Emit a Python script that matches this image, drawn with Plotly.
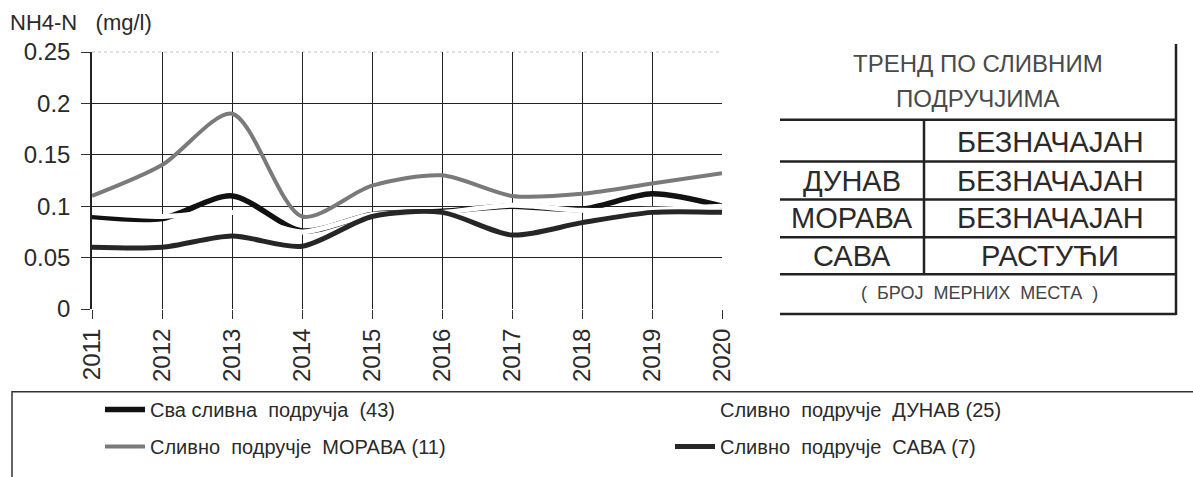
import plotly.graph_objects as go

# data (NH4-N, mg/l)
years = [2011, 2012, 2013, 2014, 2015, 2016, 2017, 2018, 2019, 2020]
sva = [0.09, 0.088, 0.11, 0.076, 0.092, 0.095, 0.10, 0.097, 0.112, 0.10]
dunav = [0.094, 0.090, 0.094, 0.075, 0.092, 0.094, 0.101, 0.096, 0.097, 0.100]
morava = [0.11, 0.14, 0.19, 0.09, 0.12, 0.13, 0.11, 0.112, 0.122, 0.132]
sava = [0.06, 0.06, 0.071, 0.061, 0.09, 0.094, 0.072, 0.084, 0.094, 0.094]

y_ticks = [0, 0.05, 0.1, 0.15, 0.2, 0.25]
y_ticktext = ["0", "0.05", "0.1", "0.15", "0.2", "0.25"]

names = ["Сва сливна  подручја  (43)", "Сливно  подручје  ДУНАВ (25)",
         "Сливно  подручје  МОРАВА (11)", "Сливно  подручје  САВА (7)"]

FONT = "Liberation Sans, Arial, sans-serif"
INK = "#2a2a2a"

fig = go.Figure()

# draw order: All, white Dunav over it, then Sava and Morava
fig.add_trace(go.Scatter(x=years, y=sva, name=names[0], mode="lines",
                         line=dict(color="#111111", width=5.5, shape="spline", smoothing=0.8),
                         legend="legend", legendgroup="a", legendrank=1))
fig.add_trace(go.Scatter(x=years, y=dunav, name=names[1], mode="lines",
                         line=dict(color="#ffffff", width=5, shape="spline", smoothing=0.8),
                         legend="legend2", legendgroup="b", legendrank=1))
fig.add_trace(go.Scatter(x=years, y=sava, name=names[3], mode="lines",
                         line=dict(color="#262626", width=5, shape="spline", smoothing=0.8),
                         legend="legend2", legendgroup="d", legendrank=2))
fig.add_trace(go.Scatter(x=years, y=morava, name=names[2], mode="lines",
                         line=dict(color="#7a7a7a", width=4, shape="spline", smoothing=0.8),
                         legend="legend", legendgroup="c", legendrank=2))

# plot area in px: x 92..722, y 52..310
L, R, T, B = 92, 722, 52, 310
def px(x):
    return (x - L) / (R - L)
def py(y):
    return (B - y) / (B - T)

shapes = []
line = dict(color="#222222", width=2.5)
# table on the right
for yy in [120, 162, 200, 238, 275, 315]:
    shapes.append(dict(type="line", xref="paper", yref="paper",
                       x0=px(780), x1=px(1176), y0=py(yy), y1=py(yy), line=line))
shapes.append(dict(type="line", xref="paper", yref="paper",
                   x0=px(1176), x1=px(1176), y0=py(44), y1=py(316), line=line))
shapes.append(dict(type="line", xref="paper", yref="paper",
                   x0=px(924), x1=px(924), y0=py(120), y1=py(275), line=line))
# legend frame
shapes.append(dict(type="rect", xref="paper", yref="paper",
                   x0=px(12), x1=px(1200), y0=py(393), y1=py(490),
                   line=dict(color="#333333", width=1.5)))
# faded top grid line and missing right grid line of the scan
shapes.append(dict(type="line", xref="paper", yref="paper", layer="between",
                   x0=0, x1=1, y0=1, y1=1, line=dict(color="#d8d8d8", width=1.5, dash="dot")))
shapes.append(dict(type="line", xref="paper", yref="paper", layer="between",
                   x0=1, x1=1, y0=0.004, y1=1.01, line=dict(color="#ffffff", width=3)))

annotations = [
    dict(text="NH4-N   (mg/l)", x=px(8), y=py(22), xanchor="left",
         font=dict(size=22, color=INK)),
    dict(text="ТРЕНД ПО СЛИВНИМ", x=px(978), y=py(64), font=dict(size=24, color="#4a4a4a")),
    dict(text="ПОДРУЧЈИМА", x=px(978), y=py(99), font=dict(size=24, color="#4a4a4a")),
    dict(text="БЕЗНАЧАЈАН", x=px(1050), y=py(142), font=dict(size=29, color=INK)),
    dict(text="ДУНАВ", x=px(852), y=py(182), font=dict(size=29, color=INK)),
    dict(text="БЕЗНАЧАЈАН", x=px(1050), y=py(182), font=dict(size=29, color=INK)),
    dict(text="МОРАВА", x=px(852), y=py(219), font=dict(size=29, color=INK)),
    dict(text="БЕЗНАЧАЈАН", x=px(1050), y=py(219), font=dict(size=29, color=INK)),
    dict(text="САВА", x=px(852), y=py(257), font=dict(size=29, color=INK)),
    dict(text="РАСТУЋИ", x=px(1050), y=py(257), font=dict(size=29, color=INK)),
    dict(text="(  БРОЈ  МЕРНИХ  МЕСТА  )", x=px(979), y=py(294), font=dict(size=18, color="#444")),
]
for a in annotations:
    a.setdefault("xref", "paper")
    a.setdefault("yref", "paper")
    a.setdefault("showarrow", False)
    a.setdefault("xanchor", "center")
    a.setdefault("yanchor", "middle")

legend_style = dict(bgcolor="rgba(0,0,0,0)", font=dict(size=20, color=INK, family=FONT),
                    itemwidth=40, tracegroupgap=8, traceorder="grouped",
                    xanchor="left", yanchor="top")

fig.update_layout(
    width=1193, height=477,
    margin=dict(l=L, r=1193 - R, t=T, b=477 - B),
    paper_bgcolor="white", plot_bgcolor="white",
    font=dict(family=FONT, size=18, color=INK),
    xaxis=dict(range=[2011, 2020], tickvals=years, tickangle=-90,
               showgrid=True, gridcolor="#222222", gridwidth=1.3,
               ticks="outside", ticklen=9, tickcolor="#333", tickwidth=1.3,
               zeroline=False, showline=False, tickfont=dict(size=24, color=INK)),
    yaxis=dict(range=[0, 0.25], tickvals=y_ticks, ticktext=y_ticktext,
               showgrid=True, gridcolor="#222222", gridwidth=1.3,
               ticks="outside", ticklen=9, tickcolor="#333", tickwidth=1.3,
               ticklabelstandoff=6,
               zeroline=False, showline=True, linecolor="#222", linewidth=1.5,
               tickfont=dict(size=24, color=INK)),
    legend=dict(x=px(100), y=py(390), **legend_style),
    legend2=dict(x=px(670), y=py(390), **legend_style),
    shapes=shapes,
    annotations=annotations,
    showlegend=True,
)

fig.write_html("out.html", config={"displayModeBar": False},
               post_script="document.body.style.margin='0px';")
